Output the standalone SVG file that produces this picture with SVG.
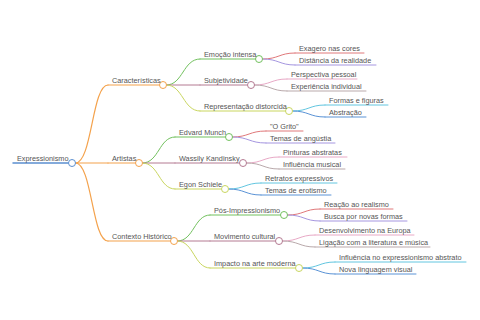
<svg xmlns="http://www.w3.org/2000/svg" width="480" height="320" viewBox="0 0 480 320">
<style>
text{font-family:"Liberation Sans",Arial,sans-serif;font-size:7.3px;fill:#555}
path,line{fill:none;stroke-linecap:round}
circle{fill:#fff;stroke-width:1}
.w1{stroke-width:1.2}
.w2{stroke-width:1}
.blue0{stroke:#5b8fd0}
.or{stroke:#f4a24c}
.gr{stroke:#72c15e}
.mv{stroke:#b47a92}
.yg{stroke:#c9d65f}
.rd{stroke:#e0787a}
.pu{stroke:#a596e0}
.pk{stroke:#e8a9c6}
.gm{stroke:#b9a9ab}
.cy{stroke:#62c6e0}
.bl{stroke:#5a93d6}
</style>
<rect width="480" height="320" fill="#fff"/>
<g id="connectors">
<path class="or w1" d="M75.5,163 C92,163 92,85 108,85"/>
<path class="or w1" d="M75.5,163 L108,163"/>
<path class="or w1" d="M75.5,163 C92,163 92,241 108,241"/>
<path class="gr w2" d="M166.5,85 C183,85 183,59 200,59"/>
<path class="mv w2" d="M166.5,85 L200,85"/>
<path class="yg w2" d="M166.5,85 C183,85 183,111 200,111"/>
<path class="rd w2" d="M262.5,59 C279,59 279,53 295,53"/>
<path class="pu w2" d="M262.5,59 C279,59 279,65 295,65"/>
<path class="pk w2" d="M254.5,85 C271,85 271,79 287,79"/>
<path class="gm w2" d="M254.5,85 C271,85 271,91 287,91"/>
<path class="cy w2" d="M292.5,111 C309,111 309,105 325,105"/>
<path class="bl w2" d="M292.5,111 C309,111 309,117 325,117"/>
<path class="gr w2" d="M142.5,163 C159,163 159,137 175,137"/>
<path class="mv w2" d="M142.5,163 L175,163"/>
<path class="yg w2" d="M142.5,163 C159,163 159,189 175,189"/>
<path class="rd w2" d="M232.5,137 C249,137 249,131 266,131"/>
<path class="pu w2" d="M232.5,137 C249,137 249,143 266,143"/>
<path class="pk w2" d="M246.5,163 C263,163 263,157 279,157"/>
<path class="gm w2" d="M246.5,163 C263,163 263,169 279,169"/>
<path class="cy w2" d="M228.5,189 C245,189 245,183 261,183"/>
<path class="bl w2" d="M228.5,189 C245,189 245,195 261,195"/>
<path class="gr w2" d="M177.5,241 C194,241 194,215 210,215"/>
<path class="mv w2" d="M177.5,241 L210,241"/>
<path class="yg w2" d="M177.5,241 C194,241 194,268 210,268"/>
<path class="rd w2" d="M287.5,215 C304,215 304,209 320,209"/>
<path class="pu w2" d="M287.5,215 C304,215 304,221 320,221"/>
<path class="pk w2" d="M282.5,241 C299,241 299,235 315,235"/>
<path class="gm w2" d="M282.5,241 C299,241 299,247 315,247"/>
<path class="cy w2" d="M302.5,268 C319,268 319,262 335,262"/>
<path class="bl w2" d="M302.5,268 C319,268 319,274 335,274"/>
</g>
<g id="root"><line class="blue0" stroke-width="1.5" x1="13" y1="163" x2="68.5" y2="163"/><circle class="blue0" cx="72" cy="163" r="3.5"/><text x="17" y="160.5">Expressionismo</text></g>
<g id="caracteristicas"><line class="or w1" x1="108" y1="85" x2="159.5" y2="85"/><circle class="or" cx="163" cy="85" r="3.5"/><text x="112" y="82.5">Características</text></g>
<g id="artistas"><line class="or w1" x1="108" y1="163" x2="135.5" y2="163"/><circle class="or" cx="139" cy="163" r="3.5"/><text x="112" y="160.5">Artistas</text></g>
<g id="contexto"><line class="or w1" x1="108" y1="241" x2="170.5" y2="241"/><circle class="or" cx="174" cy="241" r="3.5"/><text x="112" y="238.5">Contexto Histórico</text></g>
<g id="emocao"><line class="gr w2" x1="200" y1="59" x2="255.5" y2="59"/><circle class="gr" cx="259" cy="59" r="3.5"/><text x="204" y="56.5">Emoção intensa</text></g>
<g id="subjetividade"><line class="mv w2" x1="200" y1="85" x2="247.5" y2="85"/><circle class="mv" cx="251" cy="85" r="3.5"/><text x="204" y="82.5">Subjetividade</text></g>
<g id="representacao"><line class="yg w2" x1="200" y1="111" x2="285.5" y2="111"/><circle class="yg" cx="289" cy="111" r="3.5"/><text x="204" y="108.5">Representação distorcida</text></g>
<g id="exagero"><line class="rd w2" x1="295" y1="53" x2="364" y2="53"/><text x="299" y="50.5">Exagero nas cores</text></g>
<g id="distancia"><line class="pu w2" x1="295" y1="65" x2="376" y2="65"/><text x="299" y="62.5">Distância da realidade</text></g>
<g id="perspectiva"><line class="pk w2" x1="287" y1="79" x2="357" y2="79"/><text x="291" y="76.5">Perspectiva pessoal</text></g>
<g id="experiencia"><line class="gm w2" x1="287" y1="91" x2="366" y2="91"/><text x="291" y="88.5">Experiência individual</text></g>
<g id="formas"><line class="cy w2" x1="325" y1="105" x2="388" y2="105"/><text x="329" y="102.5">Formas e figuras</text></g>
<g id="abstracao"><line class="bl w2" x1="325" y1="117" x2="366" y2="117"/><text x="329" y="114.5">Abstração</text></g>
<g id="munch"><line class="gr w2" x1="175" y1="137" x2="225.5" y2="137"/><circle class="gr" cx="229" cy="137" r="3.5"/><text x="179" y="134.5">Edvard Munch</text></g>
<g id="kandinsky"><line class="mv w2" x1="175" y1="163" x2="239.5" y2="163"/><circle class="mv" cx="243" cy="163" r="3.5"/><text x="179" y="160.5">Wassily Kandinsky</text></g>
<g id="schiele"><line class="yg w2" x1="175" y1="189" x2="221.5" y2="189"/><circle class="yg" cx="225" cy="189" r="3.5"/><text x="179" y="186.5">Egon Schiele</text></g>
<g id="grito"><line class="rd w2" x1="266" y1="131" x2="303" y2="131"/><text x="270" y="128.5">"O Grito"</text></g>
<g id="angustia"><line class="pu w2" x1="266" y1="143" x2="335" y2="143"/><text x="270" y="140.5">Temas de angústia</text></g>
<g id="pinturas"><line class="pk w2" x1="279" y1="157" x2="347" y2="157"/><text x="283" y="154.5">Pinturas abstratas</text></g>
<g id="influencia-musical"><line class="gm w2" x1="279" y1="169" x2="345" y2="169"/><text x="283" y="166.5">Influência musical</text></g>
<g id="retratos"><line class="cy w2" x1="261" y1="183" x2="337" y2="183"/><text x="265" y="180.5">Retratos expressivos</text></g>
<g id="erotismo"><line class="bl w2" x1="261" y1="195" x2="331" y2="195"/><text x="265" y="192.5">Temas de erotismo</text></g>
<g id="pos-impressionismo"><line class="gr w2" x1="210" y1="215" x2="280.5" y2="215"/><circle class="gr" cx="284" cy="215" r="3.5"/><text x="214" y="212.5">Pós-Impressionismo</text></g>
<g id="movimento"><line class="mv w2" x1="210" y1="241" x2="275.5" y2="241"/><circle class="mv" cx="279" cy="241" r="3.5"/><text x="214" y="238.5">Movimento cultural</text></g>
<g id="impacto"><line class="yg w2" x1="210" y1="268" x2="295.5" y2="268"/><circle class="yg" cx="299" cy="268" r="3.5"/><text x="214" y="265.5">Impacto na arte moderna</text></g>
<g id="reacao"><line class="rd w2" x1="320" y1="209" x2="393" y2="209"/><text x="324" y="206.5">Reação ao realismo</text></g>
<g id="busca"><line class="pu w2" x1="320" y1="221" x2="407" y2="221"/><text x="324" y="218.5">Busca por novas formas</text></g>
<g id="desenvolvimento"><line class="pk w2" x1="315" y1="235" x2="414" y2="235"/><text x="319" y="232.5">Desenvolvimento na Europa</text></g>
<g id="ligacao"><line class="gm w2" x1="315" y1="247" x2="430" y2="247"/><text x="319" y="244.5">Ligação com a literatura e música</text></g>
<g id="influencia-abstrato"><line class="cy w2" x1="335" y1="262" x2="466" y2="262"/><text x="339" y="259.5">Influência no expressionismo abstrato</text></g>
<g id="nova-linguagem"><line class="bl w2" x1="335" y1="274" x2="416" y2="274"/><text x="339" y="271.5">Nova linguagem visual</text></g>
</svg>
